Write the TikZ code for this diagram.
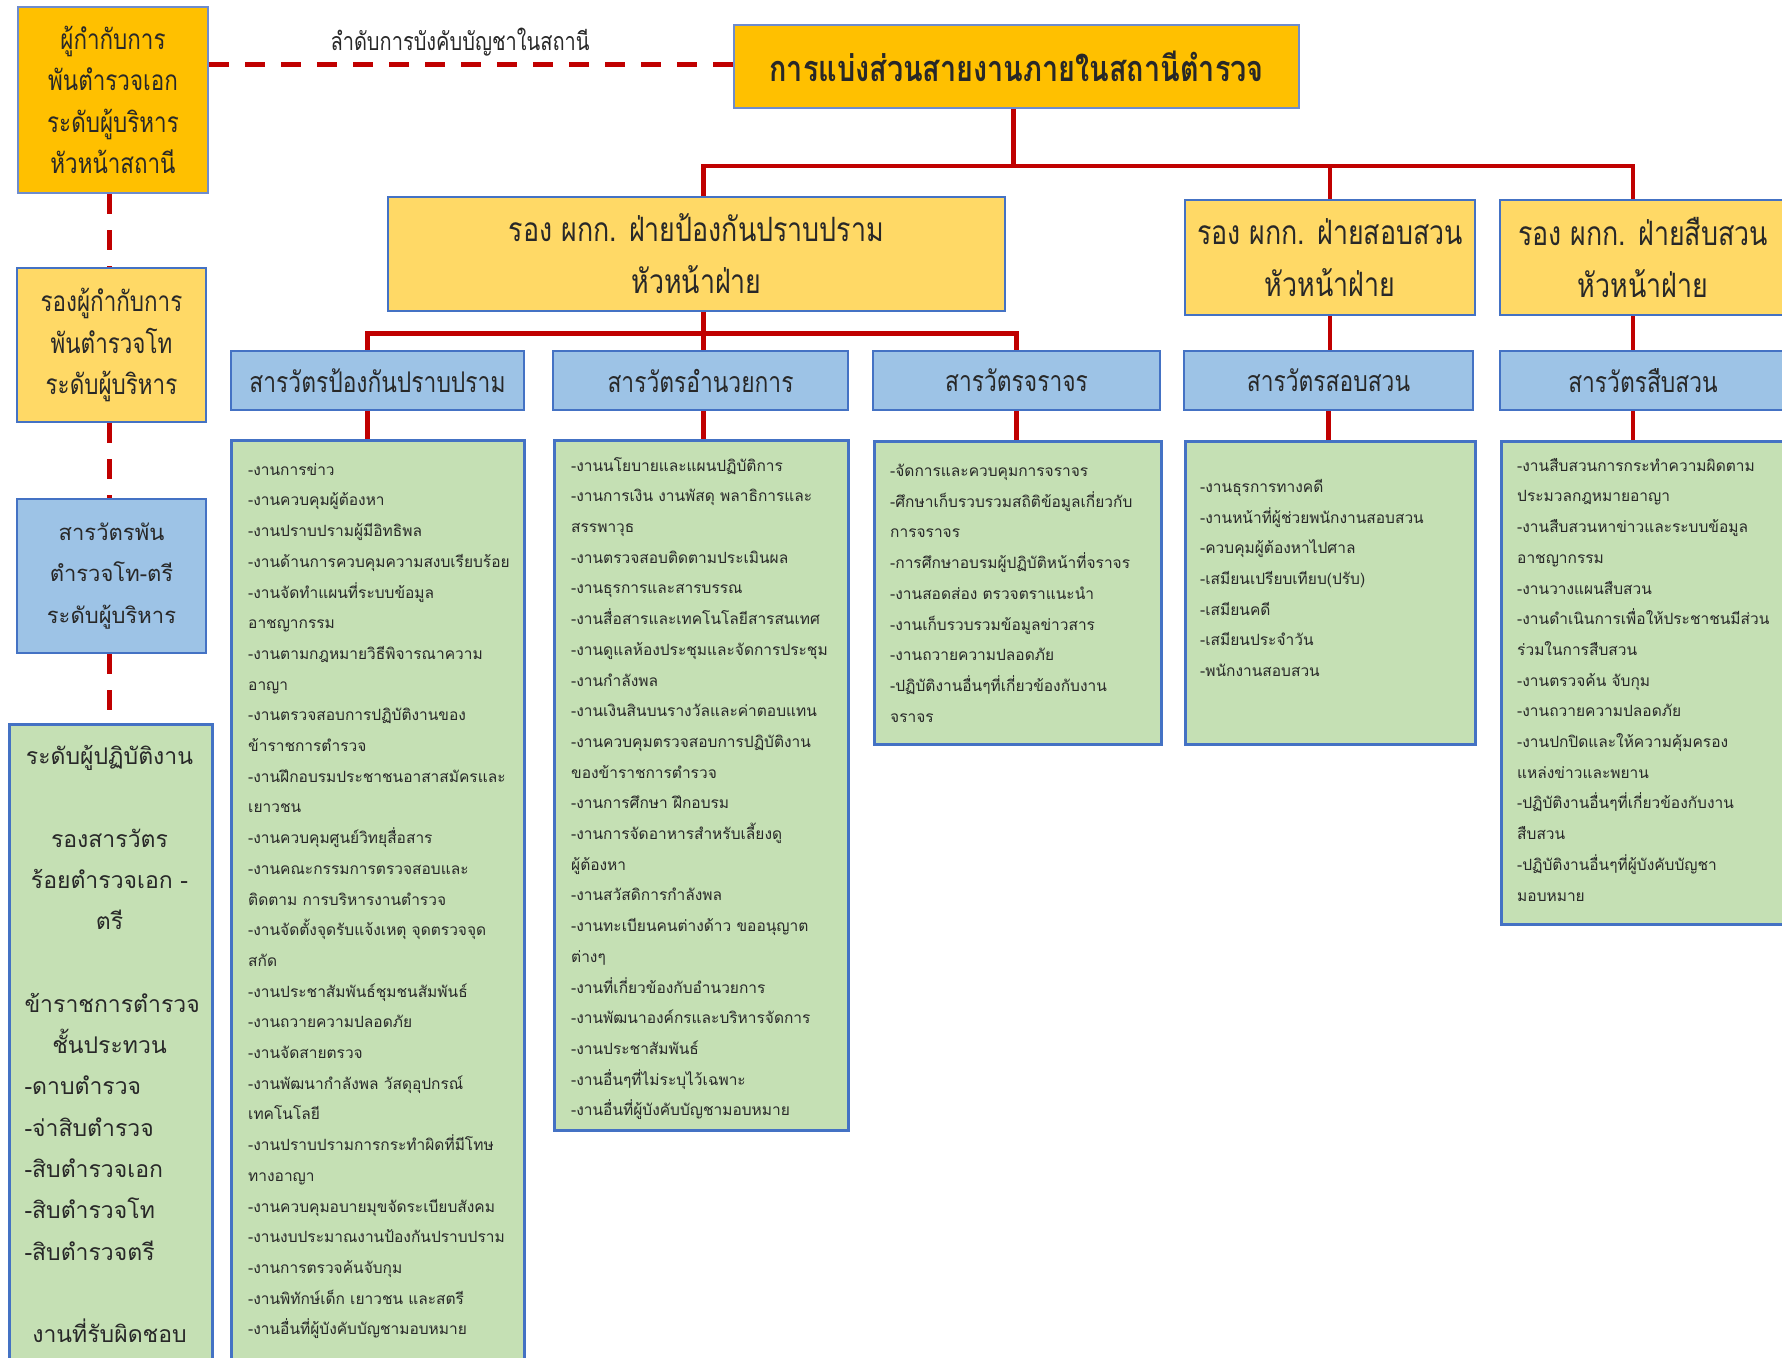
\documentclass[tikz,border=0pt]{standalone}
\usepackage{fontspec}
\setmainfont{Loma}[Script=Thai]
\newfontfamily\narrowthai{Loma}[Script=Thai,FakeStretch=0.8]

\definecolor{boxOrange}{RGB}{255,192,0}
\definecolor{boxYellow}{RGB}{255,217,102}
\definecolor{boxBlue}{RGB}{157,195,230}
\definecolor{boxGreen}{RGB}{197,224,180}
\definecolor{edgeBlue}{RGB}{68,114,196}
\definecolor{edgeLight}{RGB}{110,140,205}
\definecolor{lineRed}{RGB}{192,0,0}
\definecolor{inkGray}{RGB}{40,40,40}

\begin{document}
\begin{tikzpicture}[x=1pt,y=-1pt]
\tikzstyle{orangebox}=[rectangle,fill=boxOrange,draw=edgeLight,line width=2pt,inner sep=0pt,align=center,text=inkGray]
\tikzstyle{yellowbox}=[rectangle,fill=boxYellow,draw=edgeBlue,line width=2.5pt,inner sep=0pt,align=center,text=inkGray]
\tikzstyle{bluebox}=[rectangle,fill=boxBlue,draw=edgeBlue,line width=2.5pt,inner sep=0pt,align=center,text=inkGray]
\tikzstyle{greenbox}=[rectangle,fill=boxGreen,draw=edgeBlue,line width=2.5pt,inner sep=0pt,anchor=north west]
\tikzstyle{tasks}=[anchor=north west,inner sep=0pt,align=left,text=inkGray,font=\fontsize{15.5}{30.7}\selectfont]
\tikzstyle{link}=[draw=lineRed,line width=4.5pt]
\tikzstyle{chainline}=[draw=lineRed,line width=5pt,dash pattern=on 20pt off 16pt]

\fill[white] (0,0) rectangle (1782,1357);
\useasboundingbox (0,0) rectangle (1782,1357);

% left column, chain of command
\node[orangebox,minimum width=190pt,minimum height=186pt,font=\narrowthai\fontsize{28}{41.3}\selectfont] (chief) at (113,100) {ผู้กำกับการ\\พันตำรวจเอก\\ระดับผู้บริหาร\\หัวหน้าสถานี};
\node[yellowbox,minimum width=189pt,minimum height=154pt,font=\narrowthai\fontsize{28}{41.3}\selectfont] (deputy) at (111.5,345) {รองผู้กำกับการ\\พันตำรวจโท\\ระดับผู้บริหาร};
\node[bluebox,minimum width=189pt,minimum height=154pt,font=\fontsize{22}{41.3}\selectfont] (inspector) at (111.5,576) {สารวัตรพัน\\ตำรวจโท-ตรี\\ระดับผู้บริหาร};
\node[greenbox,minimum width=203pt,minimum height=660pt] (staff) at (8,723) {};
\node[anchor=north,inner sep=0pt,text width=170pt,align=center,text=inkGray,font=\fontsize{23}{41.3}\selectfont] (staffText) at (109.5,745) {ระดับผู้ปฏิบัติงาน\\\mbox{}\\รองสารวัตร\\ร้อยตำรวจเอก -\\ตรี\\\mbox{}\\ข้าราชการตำรวจ\\ชั้นประทวน\\\makebox[170pt][l]{-ดาบตำรวจ}\\\makebox[170pt][l]{-จ่าสิบตำรวจ}\\\makebox[170pt][l]{-สิบตำรวจเอก}\\\makebox[170pt][l]{-สิบตำรวจโท}\\\makebox[170pt][l]{-สิบตำรวจตรี}\\\mbox{}\\งานที่รับผิดชอบ};

\draw[chainline] ([xshift=-4]chief.south) -- ([xshift=-4]chief.south |- deputy.north);
\draw[chainline] ([xshift=-2]deputy.south) -- ([xshift=-2]deputy.south |- inspector.north);
\draw[chainline] ([xshift=-2]inspector.south) -- ([xshift=-2]inspector.south |- staff.north);

% top
\node[orangebox,minimum width=565pt,minimum height=83pt,font=\narrowthai\bfseries\fontsize{36}{42}\selectfont] (title) at (1016.5,66.5) {การแบ่งส่วนสายงานภายในสถานีตำรวจ};
\node[text=inkGray,font=\narrowthai\fontsize{25}{28}\selectfont] (chainLabel) at (460,42) {ลำดับการบังคับบัญชาในสถานี};
\draw[chainline] (chief.north east |- 0,64) -- (title.west |- 0,64);

% deputy heads
\node[yellowbox,minimum width=617pt,minimum height=114pt,font=\narrowthai\fontsize{33.5}{52}\selectfont] (suppHead) at (696.5,254) {รอง ผกก. ฝ่ายป้องกันปราบปราม\\หัวหน้าฝ่าย};
\node[yellowbox,minimum width=290pt,minimum height=115pt,font=\narrowthai\fontsize{33.5}{52}\selectfont] (invHead) at (1330,257.5) {รอง ผกก. ฝ่ายสอบสวน\\หัวหน้าฝ่าย};
\node[yellowbox,minimum width=286pt,minimum height=115pt,font=\narrowthai\fontsize{33.5}{52}\selectfont] (detHead) at (1643,257.5) {รอง ผกก. ฝ่ายสืบสวน\\หัวหน้าฝ่าย};

\draw[link] ([xshift=-3]title.south) -- ++(0,57) -| ([xshift=7]suppHead.north);
\draw[link] ([xshift=-3]title.south) -- ++(0,57) -| (invHead.north);
\draw[link] ([xshift=-3]title.south) -- ++(0,57) -| ([xshift=-10]detHead.north);

% inspectors
\node[bluebox,minimum width=293pt,minimum height=59pt,font=\narrowthai\fontsize{28.5}{30}\selectfont] (suppInsp) at (377.5,380.5) {สารวัตรป้องกันปราบปราม};
\node[bluebox,minimum width=295pt,minimum height=59pt,font=\narrowthai\fontsize{28.5}{30}\selectfont] (adminInsp) at (700.5,380.5) {สารวัตรอำนวยการ};
\node[bluebox,minimum width=287pt,minimum height=59pt,font=\narrowthai\fontsize{28.5}{30}\selectfont] (trafficInsp) at (1016.5,380.5) {สารวัตรจราจร};
\node[bluebox,minimum width=289pt,minimum height=59pt,font=\narrowthai\fontsize{28.5}{30}\selectfont] (invInsp) at (1328.5,380.5) {สารวัตรสอบสวน};
\node[bluebox,minimum width=286pt,minimum height=59pt,font=\narrowthai\fontsize{28.5}{30}\selectfont] (detInsp) at (1643,380.5) {สารวัตรสืบสวน};

\draw[link] ([xshift=7]suppHead.south) -- ++(0,21) -| ([xshift=-10]suppInsp.north);
\draw[link] ([xshift=7]suppHead.south) -- ++(0,21) -| ([xshift=3]adminInsp.north);
\draw[link] ([xshift=7]suppHead.south) -- ++(0,21) -| (trafficInsp.north);
\draw[link] (invHead.south) -- (invHead.south |- invInsp.north);
\draw[link] ([xshift=-10]detHead.south) -- ([xshift=-10]detHead.south |- detInsp.north);

% task lists
\node[greenbox,minimum width=293pt,minimum height=960pt] (suppTasks) at (230,439) {};
\node[greenbox,minimum width=294pt,minimum height=690pt] (adminTasks) at (553,439) {};
\node[greenbox,minimum width=287pt,minimum height=303pt] (trafficTasks) at (873,440) {};
\node[greenbox,minimum width=290pt,minimum height=303pt] (invTasks) at (1184,440) {};
\node[greenbox,minimum width=286pt,minimum height=483pt] (detTasks) at (1500,440) {};

\draw[link] ([xshift=-10]suppInsp.south) -- ([xshift=-10]suppInsp.south |- suppTasks.north);
\draw[link] ([xshift=3]adminInsp.south) -- ([xshift=3]adminInsp.south |- adminTasks.north);
\draw[link] (trafficInsp.south) -- (trafficInsp.south |- trafficTasks.north);
\draw[link] (invInsp.south) -- (invInsp.south |- invTasks.north);
\draw[link] ([xshift=-10]detInsp.south) -- ([xshift=-10]detInsp.south |- detTasks.north);

\node[tasks] (suppList) at (248,463) {-งานการข่าว\\-งานควบคุมผู้ต้องหา\\-งานปราบปรามผู้มีอิทธิพล\\-งานด้านการควบคุมความสงบเรียบร้อย\\-งานจัดทำแผนที่ระบบข้อมูล\\อาชญากรรม\\-งานตามกฎหมายวิธีพิจารณาความ\\อาญา\\-งานตรวจสอบการปฏิบัติงานของ\\ข้าราชการตำรวจ\\-งานฝึกอบรมประชาชนอาสาสมัครและ\\เยาวชน\\-งานควบคุมศูนย์วิทยุสื่อสาร\\-งานคณะกรรมการตรวจสอบและ\\ติดตาม การบริหารงานตำรวจ\\-งานจัดตั้งจุดรับแจ้งเหตุ จุดตรวจจุด\\สกัด\\-งานประชาสัมพันธ์ชุมชนสัมพันธ์\\-งานถวายความปลอดภัย\\-งานจัดสายตรวจ\\-งานพัฒนากำลังพล วัสดุอุปกรณ์\\เทคโนโลยี\\-งานปราบปรามการกระทำผิดที่มีโทษ\\ทางอาญา\\-งานควบคุมอบายมุขจัดระเบียบสังคม\\-งานงบประมาณงานป้องกันปราบปราม\\-งานการตรวจค้นจับกุม\\-งานพิทักษ์เด็ก เยาวชน และสตรี\\-งานอื่นที่ผู้บังคับบัญชามอบหมาย};

\node[tasks] (adminList) at (571,457) {-งานนโยบายและแผนปฏิบัติการ\\-งานการเงิน งานพัสดุ พลาธิการและ\\สรรพาวุธ\\-งานตรวจสอบติดตามประเมินผล\\-งานธุรการและสารบรรณ\\-งานสื่อสารและเทคโนโลยีสารสนเทศ\\-งานดูแลห้องประชุมและจัดการประชุม\\-งานกำลังพล\\-งานเงินสินบนรางวัลและค่าตอบแทน\\-งานควบคุมตรวจสอบการปฏิบัติงาน\\ของข้าราชการตำรวจ\\-งานการศึกษา ฝึกอบรม\\-งานการจัดอาหารสำหรับเลี้ยงดู\\ผู้ต้องหา\\-งานสวัสดิการกำลังพล\\-งานทะเบียนคนต่างด้าว ขออนุญาต\\ต่างๆ\\-งานที่เกี่ยวข้องกับอำนวยการ\\-งานพัฒนาองค์กรและบริหารจัดการ\\-งานประชาสัมพันธ์\\-งานอื่นๆที่ไม่ระบุไว้เฉพาะ\\-งานอื่นที่ผู้บังคับบัญชามอบหมาย};

\node[tasks] (trafficList) at (890,464) {-จัดการและควบคุมการจราจร\\-ศึกษาเก็บรวบรวมสถิติข้อมูลเกี่ยวกับ\\การจราจร\\-การศึกษาอบรมผู้ปฏิบัติหน้าที่จราจร\\-งานสอดส่อง ตรวจตราแนะนำ\\-งานเก็บรวบรวมข้อมูลข่าวสาร\\-งานถวายความปลอดภัย\\-ปฏิบัติงานอื่นๆที่เกี่ยวข้องกับงาน\\จราจร};

\node[tasks] (invList) at (1200,479) {-งานธุรการทางคดี\\-งานหน้าที่ผู้ช่วยพนักงานสอบสวน\\-ควบคุมผู้ต้องหาไปศาล\\-เสมียนเปรียบเทียบ(ปรับ)\\-เสมียนคดี\\-เสมียนประจำวัน\\-พนักงานสอบสวน};

\node[tasks] (detList) at (1517,458) {-งานสืบสวนการกระทำความผิดตาม\\ประมวลกฎหมายอาญา\\-งานสืบสวนหาข่าวและระบบข้อมูล\\อาชญากรรม\\-งานวางแผนสืบสวน\\-งานดำเนินการเพื่อให้ประชาชนมีส่วน\\ร่วมในการสืบสวน\\-งานตรวจค้น จับกุม\\-งานถวายความปลอดภัย\\-งานปกปิดและให้ความคุ้มครอง\\แหล่งข่าวและพยาน\\-ปฏิบัติงานอื่นๆที่เกี่ยวข้องกับงาน\\สืบสวน\\-ปฏิบัติงานอื่นๆที่ผู้บังคับบัญชา\\มอบหมาย};

\end{tikzpicture}
\end{document}
